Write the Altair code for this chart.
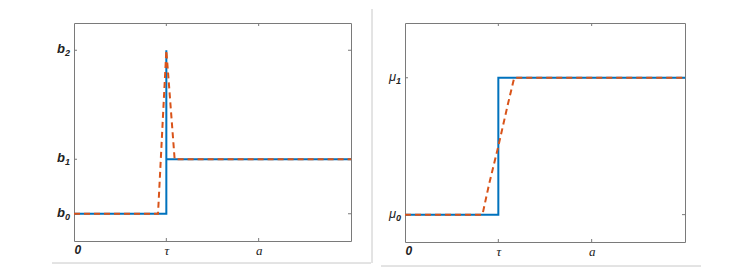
import altair as alt
import pandas as pd

# ---- data ----
x_ticks = [0, 1, 2]
x_tick_labels = ["0", "τ", "a"]
x_domain = [0, 3]

left_y_ticks = [0, 1, 3]
left_y_letters = ["b", "b", "b"]
left_y_subs = ["0", "1", "2"]
left_domain = [-0.5, 3.5]
left_true_x = [0, 1, 1, 1, 3]
left_true_y = [0, 0, 3, 1, 1]
left_est_x = [0, 0.91, 1.0, 1.09, 3]
left_est_y = [0, 0, 3, 1, 1]

right_y_ticks = [0, 1]
right_y_letters = ["μ", "μ"]
right_y_subs = ["0", "1"]
right_domain = [-0.2, 1.4]
right_true_x = [0, 1, 1, 3]
right_true_y = [0, 0, 1, 1]
right_est_x = [0, 0.83, 0.9, 1.0, 1.1, 1.17, 3]
right_est_y = [0, 0, 0.22, 0.5, 0.8, 1, 1]

BLUE = "#0072BD"
ORANGE = "#D95319"
FRAME = "#7a7a7a"
DECOR = "#c8c8c8"
TEXT = "#222222"


def label_expr(values, labels):
    expr = "''"
    for v, l in reversed(list(zip(values, labels))):
        expr = f"datum.value == {v} ? '{l}' : " + expr
    return expr


def panel(tx, ty, ex, ey, yticks, yletters, ysubs, ydom, width, height, ybold, decor):
    xs = alt.Scale(domain=x_domain, nice=False, zero=False)
    ys = alt.Scale(domain=ydom, nice=False, zero=False)
    xaxis = alt.Axis(values=x_ticks, labelExpr=label_expr(x_ticks, x_tick_labels),
                     ticks=False, grid=False, domain=False, title=None,
                     labelFont={"condition": {"test": "datum.value == 0", "value": "Liberation Sans"}, "value": "Liberation Serif"},
                     labelFontSize={"condition": {"test": "datum.value == 0", "value": 12}, "value": 13},
                     labelFontStyle="italic",
                     labelFontWeight={"condition": {"test": "datum.value == 0", "value": "bold"}, "value": "normal"},
                     labelColor=TEXT, labelPadding=3)
    yaxis = alt.Axis(values=yticks, labels=False,
                     ticks=False, grid=False, domain=False, title=None,
                     minExtent=20, maxExtent=20)
    tdf = pd.DataFrame({"x": tx, "y": ty, "i": list(range(len(tx)))})
    edf = pd.DataFrame({"x": ex, "y": ey, "i": list(range(len(ex)))})
    blue = alt.Chart(tdf).mark_line(color=BLUE, strokeWidth=2).encode(
        x=alt.X("x:Q", scale=xs, axis=xaxis), y=alt.Y("y:Q", scale=ys, axis=yaxis), order="i:Q")
    orange = alt.Chart(edf).mark_line(color=ORANGE, strokeWidth=2, strokeDash=[6, 4]).encode(
        x=alt.X("x:Q", scale=xs), y=alt.Y("y:Q", scale=ys), order="i:Q")
    xt = pd.DataFrame({"x": x_ticks[1:]})
    yt = pd.DataFrame({"y": yticks, "letter": yletters, "sub": ysubs})
    xtick_b = alt.Chart(xt).mark_rule(color=FRAME).encode(
        x=alt.X("x:Q", scale=xs), y=alt.value(height), y2=alt.value(height - 3))
    xtick_t = alt.Chart(xt).mark_rule(color=FRAME).encode(
        x=alt.X("x:Q", scale=xs), y=alt.value(0), y2=alt.value(3))
    ytick_l = alt.Chart(yt).mark_rule(color=FRAME).encode(
        y=alt.Y("y:Q", scale=ys), x=alt.value(0), x2=alt.value(3))
    ytick_r = alt.Chart(yt).mark_rule(color=FRAME).encode(
        y=alt.Y("y:Q", scale=ys), x=alt.value(width), x2=alt.value(width - 3))
    weight = "bold" if ybold else "normal"
    letter = alt.Chart(yt).mark_text(
        font="Liberation Sans", fontSize=13, fontStyle="italic", fontWeight=weight,
        align="right", baseline="middle", color=TEXT, dy=-1).encode(
        y=alt.Y("y:Q", scale=ys), x=alt.value(-9), text="letter:N")
    sub = alt.Chart(yt).mark_text(
        font="Liberation Sans", fontSize=9, fontStyle="italic", fontWeight="bold",
        align="left", baseline="middle", color=TEXT, dy=3).encode(
        y=alt.Y("y:Q", scale=ys), x=alt.value(-9), text="sub:N")
    layers = [xtick_b, xtick_t, ytick_l, ytick_r, blue, orange, letter, sub]
    one = pd.DataFrame({"k": [0]})
    for (x1, x2, y1, y2) in decor:
        layers.append(alt.Chart(one).mark_rule(color=DECOR, strokeWidth=1).encode(
            x=alt.value(x1), x2=alt.value(x2), y=alt.value(y1), y2=alt.value(y2)))
    return alt.layer(*layers).properties(width=width, height=height)


left = panel(left_true_x, left_true_y, left_est_x, left_est_y,
             left_y_ticks, left_y_letters, left_y_subs, left_domain, 277, 218, True,
             [(-22, 297, 240, 240), (298, 298, -14, 240)])
right = panel(right_true_x, right_true_y, right_est_x, right_est_y,
              right_y_ticks, right_y_letters, right_y_subs, right_domain, 280, 219, False,
              [(-24, 296, 243, 243)])

chart = alt.hconcat(left, right, spacing=54, bounds="flush").properties(
    padding={"left": 43, "top": 0, "right": 0, "bottom": 0}
).configure_view(stroke=FRAME, strokeWidth=1)

chart.save("out.html", embed_options={"renderer": "svg", "actions": False})
